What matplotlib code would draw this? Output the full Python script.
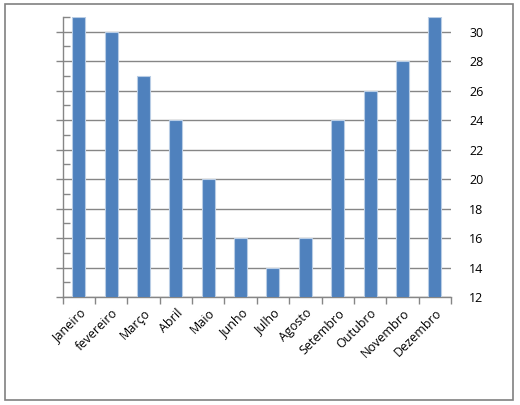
import numpy as np
import matplotlib
matplotlib.use('Agg')
from matplotlib import pyplot as plt
from matplotlib.patches import Rectangle
from matplotlib.ticker import MultipleLocator

# data
months = ['Janeiro', 'fevereiro', 'Março', 'Abril', 'Maio', 'Junho',
          'Julho', 'Agosto', 'Setembro', 'Outubro', 'Novembro', 'Dezembro']
values = [31, 30, 27, 24, 20, 16, 14, 16, 24, 26, 28, 31]
yticks = [12, 14, 16, 18, 20, 22, 24, 26, 28, 30]

grey = '#868686'
plt.rcParams['font.family'] = ['Open Sans', 'DejaVu Sans']

fig = plt.figure(figsize=(5.2, 4.05), dpi=100)
ax = fig.add_axes([62.5/520, 1 - 297/405, (451 - 62.5)/520, (297 - 17)/405])

x = np.arange(len(months))
ax.bar(x, values, width=0.4, bottom=0, color='#4F81BD', edgecolor='#B9CDE5',
       linewidth=0.8, zorder=3)
ax.set_xlim(-0.5, len(months) - 0.5)
ax.set_ylim(12, 31)

# grid
for v in yticks:
    ax.axhline(v, color=grey, lw=1, zorder=1)

# left axis: major ticks out, minor in, no labels
ax.set_yticks(yticks)
ax.yaxis.set_minor_locator(MultipleLocator(1))
ax.tick_params(axis='y', which='major', direction='out', length=5, color=grey,
               width=1, labelleft=False)
ax.tick_params(axis='y', which='minor', direction='in', length=5, color=grey,
               width=1)

# bottom axis: ticks at category boundaries
ax.set_xticks(np.arange(-0.5, len(months)), minor=False)
ax.set_xticklabels([])
ax.set_xticks(x, minor=True)
ax.set_xticklabels(months, minor=True, rotation=45, ha='right',
                   rotation_mode='anchor', fontsize=9)
ax.tick_params(axis='x', which='major', direction='out', length=5, color=grey,
               width=1)
ax.tick_params(axis='x', which='minor', length=0, pad=7)

for s in ['top', 'right']:
    ax.spines[s].set_visible(False)
for s in ['left', 'bottom']:
    ax.spines[s].set_color(grey)
    ax.spines[s].set_linewidth(1)

# right labels
ax2 = ax.twinx()
ax2.set_ylim(12, 31)
ax2.set_yticks(yticks)
ax2.set_yticklabels([str(v) for v in yticks], fontsize=9)
ax2.tick_params(axis='y', length=0, pad=13)
for s in ax2.spines.values():
    s.set_visible(False)

# chart border
fig.patches.append(Rectangle((5/520, 1 - 400/405), (513 - 5)/520, (400 - 4)/405,
                             transform=fig.transFigure, fill=False,
                             edgecolor='#808080', lw=1.2))

fig.savefig('out.png', dpi=100)
